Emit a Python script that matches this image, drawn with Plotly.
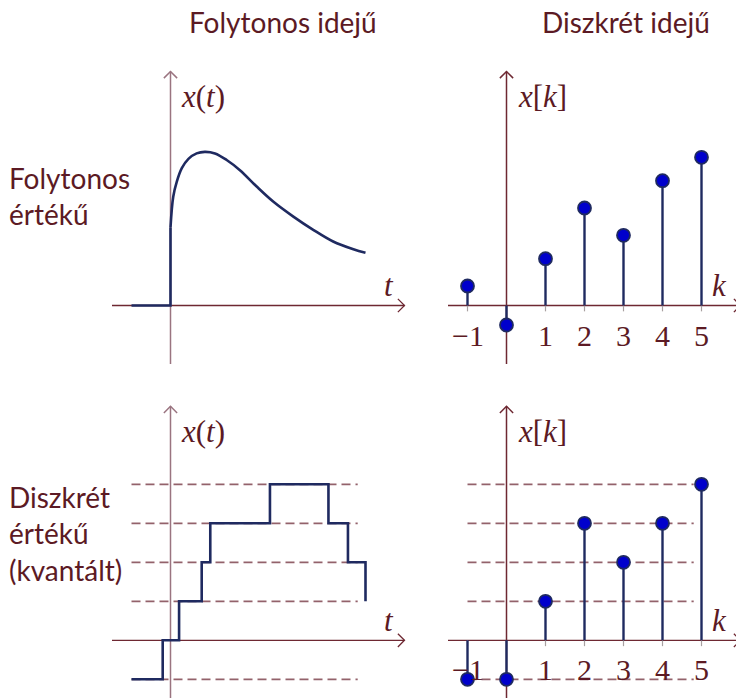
import plotly.graph_objects as go

W, H = 736, 698
UNIT = 39.0  # pixels per data unit, same on both axes

# ---- continuous-time, continuous-valued signal (read points of the curve)
t_pre = [-1.0, 0.0, 0.0]
x_pre = [0.0, 0.0, 2.0]
t_curve = [0.0, 0.07, 0.16, 0.29, 0.46, 0.67, 0.88, 1.14, 1.44, 1.78,
           2.21, 2.64, 3.15, 3.66, 4.17, 4.69, 5.0]
x_curve = [2.0, 2.79, 3.17, 3.52, 3.76, 3.90, 3.94, 3.90, 3.73, 3.47,
           3.05, 2.66, 2.28, 1.94, 1.64, 1.44, 1.35]

# ---- continuous-time, quantized signal (switching instants and levels)
t_steps = [-1.0, -0.2, 0.22, 0.8, 1.02, 2.55, 4.05, 4.55, 5.0]
x_steps = [-1, 0, 1, 2, 3, 4, 3, 2, 1]

# ---- discrete-time signals
k_vals = [-1, 0, 1, 2, 3, 4, 5]
xk_cont = [0.5, -0.5, 1.2, 2.5, 1.8, 3.2, 3.8]
xk_quant = [-1, -1, 1, 3, 2, 3, 4]

# quantization levels and tick labels
q_levels = [4, 3, 2, 1, -1]
tick_pos = [-1, 1, 2, 3, 4, 5]
tick_text = ["\u22121", "1", "2", "3", "4", "5"]

col_text = "#5c1a24"
col_axis = "#6e2832"
col_axis_light = "#9a7480"
col_sig = "#1f2a60"
col_mark = "#0000cc"
col_dash = "#93626b"
col_tick = "#a8a0a0"

SERIF = "Liberation Serif, DejaVu Serif, serif"
SANS = "Lato, Open Sans, DejaVu Sans, sans-serif"

# panel pixel boxes (x0, x1, y0, y1) and origin pixels
panels = [
    dict(box=(100, 428, 55, 372), origin=(170.5, 305.5)),  # top-left
    dict(box=(432, 736, 55, 372), origin=(506.5, 305.5)),  # top-right
    dict(box=(100, 428, 382, 698), origin=(170.5, 640.3)),  # bottom-left
    dict(box=(432, 736, 382, 698), origin=(506.5, 640.3)),  # bottom-right
]

fig = go.Figure()
layout = dict(width=W, height=H, margin=dict(l=0, r=0, t=0, b=0),
              paper_bgcolor="white", plot_bgcolor="white", showlegend=False)

for i, p in enumerate(panels, start=1):
    x0, x1, y0, y1 = p["box"]
    ox, oy = p["origin"]
    sx = "" if i == 1 else str(i)
    layout["xaxis" + sx] = dict(domain=[x0 / W, x1 / W],
                                range=[(x0 - ox) / UNIT, (x1 - ox) / UNIT],
                                visible=False, fixedrange=True,
                                anchor="y" + sx)
    layout["yaxis" + sx] = dict(domain=[1 - y1 / H, 1 - y0 / H],
                                range=[(oy - y1) / UNIT, (oy - y0) / UNIT],
                                visible=False, fixedrange=True,
                                anchor="x" + sx)
fig.update_layout(**layout)


def refs(i):
    s = "" if i == 1 else str(i)
    return "x" + s, "y" + s


def add_line(i, xs, ys, color, width, dash=None, shape="linear"):
    xr, yr = refs(i)
    fig.add_trace(go.Scatter(x=xs, y=ys, mode="lines", xaxis=xr, yaxis=yr,
                             line=dict(color=color, width=width, dash=dash,
                                       shape=shape),
                             hoverinfo="skip"))


def draw_axes(i, ycol):
    lo, hi, a = -1.5, 6.0, 0.17
    add_line(i, [lo, hi], [0, 0], col_axis, 1.3)
    add_line(i, [0, 0], [lo, hi], ycol, 1.5)
    # open arrow heads
    add_line(i, [hi - a, hi, hi - a], [a, 0, -a], col_axis, 1.3)
    add_line(i, [-a, 0, a], [hi - a, hi, hi - a], ycol, 1.5)


def draw_ticks(i):
    xs, ys = [], []
    for k in tick_pos:
        xs += [k, k, None]
        ys += [0, -0.15, None]
    add_line(i, xs, ys, col_tick, 1.2)


def draw_levels(i, xstart, xend):
    xs, ys = [], []
    for q in q_levels:
        xs += [xstart, xend, None]
        ys += [q, q, None]
    add_line(i, xs, ys, col_dash, 1.7, dash="9px,5px")


def draw_stems(i, ks, vals):
    xr, yr = refs(i)
    xs, ys = [], []
    for k, v in zip(ks, vals):
        xs += [k, k, None]
        ys += [0, v, None]
    add_line(i, xs, ys, col_sig, 2.4)
    fig.add_trace(go.Scatter(x=ks, y=vals, mode="markers", xaxis=xr, yaxis=yr,
                             marker=dict(size=13, color=col_mark,
                                         line=dict(color=col_sig, width=1.8)),
                             cliponaxis=False, hoverinfo="skip"))


# top-left: continuous time, continuous value
draw_axes(1, col_axis_light)
add_line(1, t_pre, x_pre, col_sig, 2.6)
add_line(1, t_curve, x_curve, col_sig, 2.6, shape="spline")

# top-right: discrete time, continuous value
draw_axes(2, col_axis)
draw_ticks(2)
draw_stems(2, k_vals, xk_cont)

# bottom-left: continuous time, quantized value
draw_levels(3, -1.0, 4.8)
draw_axes(3, col_axis_light)
add_line(3, t_steps, x_steps, col_sig, 2.6, shape="hv")

# bottom-right: discrete time, quantized value
draw_levels(4, -1.0, 4.8)
draw_axes(4, col_axis)
draw_ticks(4)
draw_stems(4, k_vals, xk_quant)

annotations = []


def text_at(i, x, y, txt, size, xanchor="center", font=SERIF):
    xr, yr = refs(i)
    annotations.append(dict(x=x, y=y, xref=xr, yref=yr, text=txt,
                            showarrow=False, xanchor=xanchor, yanchor="middle",
                            font=dict(family=font, size=size, color=col_text)))


for i in (1, 3):
    text_at(i, 0.22, 5.35, "<i>x</i>(<i>t</i>)", 31, xanchor="left")
    text_at(i, 5.6, 0.5, "<i>t</i>", 31)
for i in (2, 4):
    text_at(i, 0.25, 5.35, "<i>x</i>[<i>k</i>]", 31, xanchor="left")
    text_at(i, 5.47, 0.5, "<i>k</i>", 31)
    for k, lab in zip(tick_pos, tick_text):
        text_at(i, k, -0.76, lab, 30)


def paper_text(px, py, txt, size, xanchor="center", align="center"):
    annotations.append(dict(x=px / W, y=1 - py / H, xref="paper", yref="paper",
                            text=txt, showarrow=False, xanchor=xanchor,
                            yanchor="middle", align=align,
                            font=dict(family=SANS, size=size, color=col_text)))


paper_text(283, 22, "Folytonos idejű", 28)
paper_text(626, 22, "Diszkrét idejű", 28)
paper_text(7, 196, "Folytonos<br>értékű", 28, xanchor="left", align="left")
paper_text(7, 533, "Diszkrét<br>értékű<br>(kvantált)", 28, xanchor="left",
           align="left")

fig.update_layout(annotations=annotations)
fig.write_html("out.html")
